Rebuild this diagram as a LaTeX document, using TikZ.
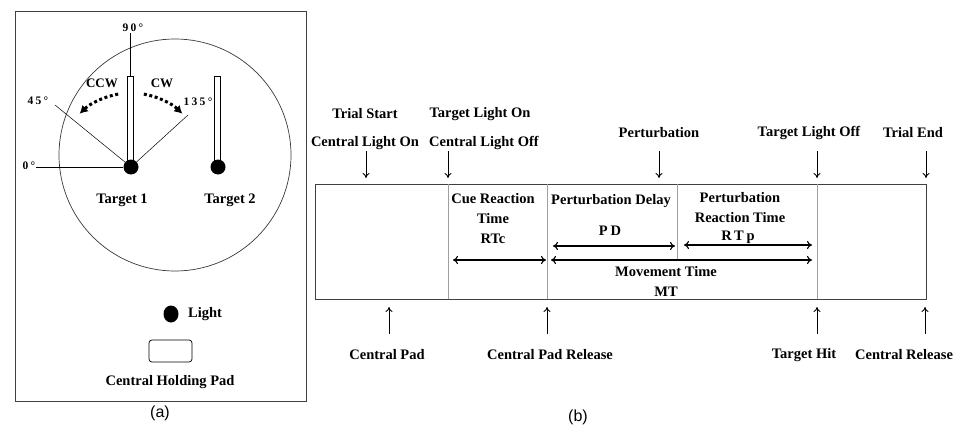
\documentclass[tikz,border=0pt]{standalone}
\usepackage{fontspec}
\setmainfont{Liberation Serif}
\newfontfamily\capfont{Liberation Sans}
\newfontfamily\wideserif[LetterSpace=20]{Liberation Serif}
\usetikzlibrary{arrows.meta,shapes.geometric}

\begin{document}
\begin{tikzpicture}[x=1pt, y=1pt,
  lbl/.style = {font=\bfseries\fontsize{14.5}{20}\selectfont, inner sep=0pt, align=center},
  deg/.style = {font=\wideserif\bfseries\fontsize{11.5}{13}\selectfont, inner sep=0.5pt},
  wide/.style = {font=\wideserif\bfseries\fontsize{14.5}{17}\selectfont, inner sep=0pt},
  panelcap/.style = {font=\capfont\fontsize{16}{18}\selectfont, inner sep=0pt},
  knob/.style = {circle, fill=black, minimum size=15pt, inner sep=0pt},
  stick/.style = {draw, fill=white, line width=0.7pt, minimum width=5.5pt, minimum height=85pt, inner sep=0pt, anchor=south},
  divider/.style = {draw=gray!75, line width=0.8pt},
  evt/.style = {-{To[length=5pt,width=7pt]}, line width=0.9pt},
  dur/.style = {{To[length=5pt,width=8pt]}-{To[length=5pt,width=8pt]}, line width=1.1pt},
  turn/.style = {dash pattern=on 3pt off 2.6pt, line width=3pt, -{Latex[length=8pt,width=9pt]}}]
	\useasboundingbox (0,0) rectangle (960,-425);

	% (a) the board
	\draw[gray!50!black, line width=0.8pt] (15,-11) rectangle (306,-401);
	\draw[gray!45!black, line width=0.7pt] (175,-155) circle (116);
	\node[stick] (barA) at (130.5,-162) {};
	\node[stick] (barB) at (217.5,-162) {};
	\node[knob] (tgtA) at (131,-167) {};
	\node[knob] (tgtB) at (218,-167) {};
	\node[deg] (d90) at (133,-28) {90°};
	\node[deg] (d0) at (29,-166) {0°};
	\node[deg] (d45) at (38,-101) {45°};
	\node[deg] (d135) at (198,-102) {135°};
	\coordinate (e45) at (55,-105);
	\coordinate (e135) at (188,-115);
	\draw[line width=0.5pt] (barA.north |- d90.south) -- (barA.north);
	\draw[line width=0.5pt] (d0.east |- tgtA) -- (tgtA);
	\draw[line width=0.5pt] (e45) -- (tgtA);
	\draw[line width=0.5pt] (e135) -- (tgtA);
	\draw[turn] (tgtA) ++(100:74) arc[start angle=100, end angle=134, radius=74];
	\draw[turn] (tgtA) ++(80:74) arc[start angle=80, end angle=46, radius=74];
	\node[lbl, font=\bfseries\fontsize{13}{14}\selectfont] (ccw) at (102,-83) {CCW};
	\node[lbl, font=\bfseries\fontsize{13}{14}\selectfont] (cw) at (162,-83) {CW};
	\node[lbl] (nameA) at (122,-200) {Target 1};
	\node[lbl] (nameB) at (230,-200) {Target 2};
	\node[ellipse, fill=black, minimum width=15pt, minimum height=17pt, inner sep=0pt] (lamp) at (171,-314) {};
	\node[lbl, anchor=west] (lampname) at (188,-314) {Light};
	\node[draw, line width=0.7pt, rounded corners=3pt, minimum width=43pt, minimum height=22pt] (pad) at (170.5,-351) {};
	\node[lbl] (padname) at (170,-382) {Central Holding Pad};
	\node[panelcap] (capa) at (160,-413) {(a)};

	% (b) the time line
	\draw[gray!50!black, line width=0.9pt] (315,-184) rectangle (926,-299);
	\draw[divider] (448,-184) -- (448,-299);
	\draw[divider] (547,-184) -- (547,-299);
	\draw[divider] (677,-184) -- (677,-259);
	\draw[divider] (817,-184) -- (817,-299);

	\node[lbl] (start) at (365,-114) {Trial Start};
	\node[lbl] (clon) at (365,-143) {Central Light On};
	\node[lbl] (tlon) at (480,-114) {Target Light On};
	\node[lbl] (cloff) at (484,-143) {Central Light Off};
	\node[lbl] (pert) at (659,-133) {Perturbation};
	\node[lbl] (tloff) at (809,-133) {Target Light Off};
	\node[lbl] (stop) at (913,-133) {Trial End};
	\coordinate (u1) at (366,-151); \coordinate (v1) at (366,-178);
	\coordinate (u2) at (448,-151); \coordinate (v2) at (448,-178);
	\coordinate (u3) at (659,-151); \coordinate (v3) at (659,-178);
	\coordinate (u4) at (817,-151); \coordinate (v4) at (817,-178);
	\coordinate (u5) at (926,-151); \coordinate (v5) at (926,-178);
	\draw[evt] (u1) -- (v1);
	\draw[evt] (u2) -- (v2);
	\draw[evt] (u3) -- (v3);
	\draw[evt] (u4) -- (v4);
	\draw[evt] (u5) -- (v5);

	\node[lbl] (crt) at (493,-219) {Cue Reaction\\Time\\RTc};
	\node[lbl] (pdname) at (611,-201) {Perturbation Delay};
	\node[wide] (pd) at (610,-231) {PD};
	\node[lbl] (prt) at (740,-208) {Perturbation\\Reaction Time};
	\node[wide] (rtp) at (738,-237) {RTp};
	\node[lbl] (mt) at (666,-281) {Movement Time\\MT};
	\coordinate (c1) at (453,-260); \coordinate (c2) at (546,-260);
	\coordinate (p1) at (553,-246); \coordinate (p2) at (675,-246);
	\coordinate (m1) at (551,-260); \coordinate (m2) at (812,-260);
	\coordinate (r1) at (684,-245); \coordinate (r2) at (812,-245);
	\draw[dur] (c1) -- (c2);
	\draw[dur] (p1) -- (p2);
	\draw[dur] (m1) -- (m2);
	\draw[dur] (r1) -- (r2);

	\coordinate (w1) at (389,-334); \coordinate (h1) at (389,-307);
	\coordinate (w2) at (547,-334); \coordinate (h2) at (547,-307);
	\coordinate (w3) at (817,-334); \coordinate (h3) at (817,-307);
	\coordinate (w4) at (925,-334); \coordinate (h4) at (925,-307);
	\draw[evt] (w1) -- (h1);
	\draw[evt] (w2) -- (h2);
	\draw[evt] (w3) -- (h3);
	\draw[evt] (w4) -- (h4);
	\node[lbl] (cpad) at (387,-355) {Central Pad};
	\node[lbl] (cpadrel) at (550,-355) {Central Pad Release};
	\node[lbl] (hit) at (804,-355) {Target Hit};
	\node[lbl] (crel) at (904,-355) {Central Release};
	\node[panelcap] (capb) at (578,-417) {(b)};
\end{tikzpicture}
\end{document}
